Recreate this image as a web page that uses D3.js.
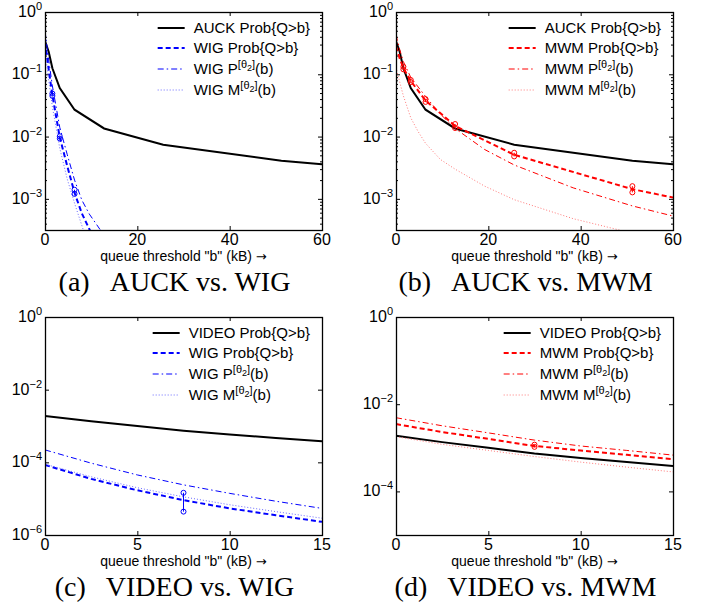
<!DOCTYPE html>
<html>
<head>
<meta charset="utf-8">
<script src="https://cdn.jsdelivr.net/npm/d3@7"></script>
<style>
body { margin: 0; background: #fff; }
text { font-family: "Liberation Sans", Arial, sans-serif; }
.caption { font-family: "Liberation Serif", "Times New Roman", serif; }
</style>
</head>
<body>
<svg id="canvas" width="716" height="607"></svg>
<script>
// AUCK / WIG / MWM curves, b in kB (top row)
let auckB = [0, 0.8, 1.6, 3.2, 6.4, 12.8, 25.6, 51.2, 60]
let auckProb = [0.34, 0.23, 0.125, 0.06, 0.027, 0.0135, 0.0074, 0.0041, 0.0036]

let wigAB = [0, 0.8, 1.6, 3.2, 4.8, 6.4, 8, 9.7, 11]
let wigAProb = [0.33, 0.12, 0.046, 0.0097, 0.0034, 0.00125, 0.00058, 0.000316, 0.0002]
let wigAPB = [0, 0.8, 1.6, 3.2, 4.8, 6.4, 8, 9.6, 12, 13]
let wigAP = [0.5, 0.17, 0.065, 0.014, 0.0052, 0.002, 0.00095, 0.00057, 0.000316, 0.00025]
let wigAMB = [0, 0.8, 1.6, 3.2, 4.8, 6.4, 8.3, 9.5]
let wigAM = [0.25, 0.08, 0.03, 0.0065, 0.0021, 0.00085, 0.000316, 0.0002]

let mwmB = [0, 0.8, 1.6, 3.2, 6.4, 12.8, 25.6, 51.2, 60]
let mwmProb = [0.28, 0.18, 0.126, 0.078, 0.038, 0.0148, 0.0051, 0.00143, 0.00105]
let mwmPB = [0, 0.8, 1.6, 3.2, 6.4, 9.6, 12.8, 19.2, 25.6, 38.4, 51.2, 60]
let mwmP = [0.43, 0.25, 0.16, 0.089, 0.044, 0.023, 0.0135, 0.0062, 0.0035, 0.0015, 0.00077, 0.00053]
let mwmMB = [0, 0.8, 1.6, 3.2, 4.8, 6.4, 9.6, 12.8, 19.2, 25.6, 38.4, 48.4, 52]
let mwmM = [0.13, 0.075, 0.045, 0.02, 0.012, 0.0078, 0.0043, 0.003, 0.0016, 0.00097, 0.00048, 0.000316, 0.00027]

// markers (pairs of circles) on the Prob curves
let wigAMarkB = [1.6, 3.2, 6.4]
let wigAMarkLo = [0.045, 0.0093, 0.0012]
let wigAMarkHi = [0.049, 0.0101, 0.0014]
let mwmMarkB = [1.6, 3.2, 6.4, 12.8, 25.6, 51.2]
let mwmMarkLo = [0.12, 0.075, 0.036, 0.0137, 0.0048, 0.00127]
let mwmMarkHi = [0.132, 0.081, 0.04, 0.0159, 0.0055, 0.0016]

// VIDEO curves (bottom row)
let videoB = [0, 2.5, 5, 7.5, 10, 12.5, 15]
let videoProb = [0.0019, 0.00135, 0.001, 0.00074, 0.00058, 0.00047, 0.00038]
let wigCProb = [8.5e-5, 3.5e-5, 1.7e-5, 9.1e-6, 5.4e-6, 3.5e-6, 2.3e-6]
let wigCP = [2.2e-4, 9.5e-5, 4.5e-5, 2.4e-5, 1.4e-5, 8.5e-6, 5.4e-6]
let wigCM = [8.9e-5, 4.0e-5, 2.0e-5, 1.12e-5, 6.8e-6, 4.4e-6, 2.9e-6]
let mwmDProb = [0.0035, 0.0023, 0.0016, 0.0011, 0.00087, 0.00069, 0.00055]
let mwmDP = [0.0049, 0.0032, 0.0022, 0.0015, 0.0011, 0.00087, 0.00068]
let mwmDM = [0.0018, 0.0012, 0.00087, 0.00063, 0.00047, 0.00036, 0.00028]

let wigCMarkB = [7.5]
let wigCMarkLo = [4.4e-6]
let wigCMarkHi = [1.45e-5]
let mwmDMarkB = [7.5]
let mwmDMarkLo = [0.00105]
let mwmDMarkHi = [0.00118]

let xTicksTop = [0, 20, 40, 60]
let xTicksBottom = [0, 5, 10, 15]
let legendA = ['AUCK Prob{Q>b}', 'WIG Prob{Q>b}', 'WIG P[θ2](b)', 'WIG M[θ2](b)']
let legendB = ['AUCK Prob{Q>b}', 'MWM Prob{Q>b}', 'MWM P[θ2](b)', 'MWM M[θ2](b)']
let legendC = ['VIDEO Prob{Q>b}', 'WIG Prob{Q>b}', 'WIG P[θ2](b)', 'WIG M[θ2](b)']
let legendD = ['VIDEO Prob{Q>b}', 'MWM Prob{Q>b}', 'MWM P[θ2](b)', 'MWM M[θ2](b)']
let captions = [['(a)', 'AUCK vs. WIG'], ['(b)', 'AUCK vs. MWM'], ['(c)', 'VIDEO vs. WIG'], ['(d)', 'VIDEO vs. MWM']]

let canvas = d3.select('#canvas')
const W = 277, H = 218
const blue = '#0000ff', red = '#ff0000'

// line looks: solid, dashed, dash-dot, dotted
let styles = {
    solid: { w: 2, dash: null },
    dash: { w: 2, dash: '5,3' },
    dashdot: { w: 1, dash: '6,3,1.5,3' },
    dot: { w: 1, dash: '1,2' }
}
let light = { [blue]: '#6a6aff', [red]: '#ff7a7a' }

let panels = [
    { left: 45, top: 12, xMax: 60, xTicks: xTicksTop, yExp: -3.5, yLabels: [0, -1, -2, -3], minor: true,
      color: blue, legend: legendA, caption: captions[0],
      lines: [[auckB, auckProb], [wigAB, wigAProb], [wigAPB, wigAP], [wigAMB, wigAM]],
      marks: [wigAMarkB, wigAMarkLo, wigAMarkHi] },
    { left: 396, top: 12, xMax: 60, xTicks: xTicksTop, yExp: -3.5, yLabels: [0, -1, -2, -3], minor: true,
      color: red, legend: legendB, caption: captions[1],
      lines: [[auckB, auckProb], [mwmB, mwmProb], [mwmPB, mwmP], [mwmMB, mwmM]],
      marks: [mwmMarkB, mwmMarkLo, mwmMarkHi] },
    { left: 45, top: 317, xMax: 15, xTicks: xTicksBottom, yExp: -6, yLabels: [0, -2, -4, -6], minor: false,
      color: blue, legend: legendC, caption: captions[2],
      lines: [[videoB, videoProb], [videoB, wigCProb], [videoB, wigCP], [videoB, wigCM]],
      marks: [wigCMarkB, wigCMarkLo, wigCMarkHi] },
    { left: 396, top: 317, xMax: 15, xTicks: xTicksBottom, yExp: -5, yLabels: [0, -2, -4], minor: false,
      color: red, legend: legendD, caption: captions[3],
      lines: [[videoB, videoProb], [videoB, mwmDProb], [videoB, mwmDP], [videoB, mwmDM]],
      marks: [mwmDMarkB, mwmDMarkLo, mwmDMarkHi] }
]
let order = ['solid', 'dash', 'dashdot', 'dot']

let colorOf = (p, k) => k == 0 ? '#000' : (k == 3 ? light[p.color] : p.color)

// legend text with the [θ2] superscript
let writeLabel = (sel, label) => {
    let i = label.indexOf('[θ2]')
    if (i < 0) { sel.text(label); return }
    sel.append('tspan').text(label.slice(0, i))
    sel.append('tspan').attr('font-size', 11).attr('dy', -6).text('[θ')
    sel.append('tspan').attr('font-size', 9).attr('dy', 3).text('2')
    sel.append('tspan').attr('font-size', 11).attr('dy', -3).text(']')
    sel.append('tspan').attr('dy', 6).text(label.slice(i + 4))
}

let drawPanel = (p, idx) => {
    let x = d3.scaleLinear().domain([0, p.xMax]).range([p.left, p.left + W])
    let y = d3.scaleLog().domain([Math.pow(10, p.yExp), 1]).range([p.top + H, p.top])
    let g = canvas.append('g')

    canvas.append('clipPath').attr('id', 'clip' + idx)
        .append('rect').attr('x', p.left).attr('y', p.top).attr('width', W).attr('height', H)

    // ticks on all four sides, pointing inward
    let major = p.yLabels.map(e => Math.pow(10, e))
    let minorTicks = []
    if (p.minor) {
        for (let e = Math.floor(p.yExp); e < 0; e++)
            for (let m = 2; m < 10; m++) {
                let v = m * Math.pow(10, e)
                if (v >= Math.pow(10, p.yExp)) minorTicks.push(v)
            }
    }
    let axes = [
        [d3.axisBottom(x).tickValues(p.xTicks).tickSize(-4).tickFormat(''), `translate(0,${p.top + H})`],
        [d3.axisTop(x).tickValues(p.xTicks).tickSize(-4).tickFormat(''), `translate(0,${p.top})`],
        [d3.axisLeft(y).tickValues(major).tickSize(-4).tickFormat(''), `translate(${p.left},0)`],
        [d3.axisRight(y).tickValues(major).tickSize(-4).tickFormat(''), `translate(${p.left + W},0)`],
        [d3.axisLeft(y).tickValues(minorTicks).tickSize(-2).tickFormat(''), `translate(${p.left},0)`],
        [d3.axisRight(y).tickValues(minorTicks).tickSize(-2).tickFormat(''), `translate(${p.left + W},0)`]
    ]
    axes.forEach(([ax, tr]) => {
        let a = g.append('g').attr('transform', tr).call(ax)
        a.select('.domain').remove()
        a.selectAll('line').attr('stroke', '#000')
    })

    // x tick labels
    g.selectAll('.xlab').data(p.xTicks).enter().append('text')
        .attr('class', 'xlab')
        .attr('x', d => x(d))
        .attr('y', p.top + H + 15)
        .attr('text-anchor', 'middle')
        .attr('font-size', 16)
        .text(d => d)

    // y labels 10^k
    g.selectAll('.ylab').data(p.yLabels).enter().append('text')
        .attr('class', 'ylab')
        .attr('x', p.left - 3)
        .attr('y', d => y(Math.pow(10, d)) + 5)
        .attr('text-anchor', 'end')
        .attr('font-size', 16)
        .each(function (d) {
            let t = d3.select(this)
            t.append('tspan').text('10')
            t.append('tspan').attr('font-size', 11).attr('dy', -7).text(d == 0 ? '0' : '−' + (-d))
        })

    // curves
    let line = d3.line().x(d => x(d[0])).y(d => y(d[1]))
    let plot = g.append('g').attr('clip-path', `url(#clip${idx})`)
    p.lines.forEach(([bs, vs], k) => {
        let st = styles[order[k]]
        plot.append('path')
            .datum(d3.zip(bs, vs))
            .attr('d', line)
            .attr('fill', 'none')
            .attr('stroke', colorOf(p, k))
            .attr('stroke-width', st.w)
            .attr('stroke-dasharray', st.dash)
    })

    // interval markers
    let [mb, lo, hi] = p.marks
    let mk = plot.selectAll('.mk').data(d3.range(mb.length)).enter().append('g')
    mk.append('line')
        .attr('x1', i => x(mb[i])).attr('x2', i => x(mb[i]))
        .attr('y1', i => y(lo[i])).attr('y2', i => y(hi[i]))
        .attr('stroke', p.color).attr('stroke-width', 1)
    mk.append('circle').attr('cx', i => x(mb[i])).attr('cy', i => y(lo[i])).attr('r', 2.5)
        .attr('fill', 'none').attr('stroke', p.color).attr('stroke-width', 1)
    mk.append('circle').attr('cx', i => x(mb[i])).attr('cy', i => y(hi[i])).attr('r', 2.5)
        .attr('fill', 'none').attr('stroke', p.color).attr('stroke-width', 1)

    // frame
    g.append('rect')
        .attr('x', p.left + 0.5).attr('y', p.top + 0.5)
        .attr('width', W).attr('height', H)
        .attr('fill', 'none').attr('stroke', '#000').attr('stroke-width', 1.3)

    // legend, right aligned in the box
    let rows = [16, 36, 57, 78]
    let lg = g.append('g')
    let maxW = 0
    p.legend.forEach((label, k) => {
        let st = styles[order[k]]
        lg.append('line')
            .attr('x1', 0).attr('x2', 27)
            .attr('y1', rows[k]).attr('y2', rows[k])
            .attr('stroke', colorOf(p, k))
            .attr('stroke-width', st.w)
            .attr('stroke-dasharray', st.dash)
        let t = lg.append('text').attr('x', 36).attr('y', rows[k] + 5).attr('font-size', 15)
        writeLabel(t, label)
        maxW = Math.max(maxW, t.node().getComputedTextLength())
    })
    lg.attr('transform', `translate(${p.left + W - 12 - 36 - maxW},${p.top})`)

    // axis title
    let at = g.append('text')
        .attr('x', p.left + W / 2)
        .attr('y', p.top + H + 31)
        .attr('text-anchor', 'middle')
        .attr('font-size', 14)
    at.append('tspan').text('queue threshold "b" (kB) ')
    at.append('tspan').attr('font-family', '"DejaVu Sans", sans-serif').attr('font-size', 13).text('→')

    // caption
    let c = g.append('text')
        .attr('class', 'caption')
        .attr('x', p.left + W / 2 - 9)
        .attr('y', p.top + H + 61)
        .attr('text-anchor', 'middle')
        .attr('font-size', 28)
    c.append('tspan').text(p.caption[0])
    c.append('tspan').attr('dx', 20).text(p.caption[1])
}

panels.forEach(drawPanel)
</script>
</body>
</html>
